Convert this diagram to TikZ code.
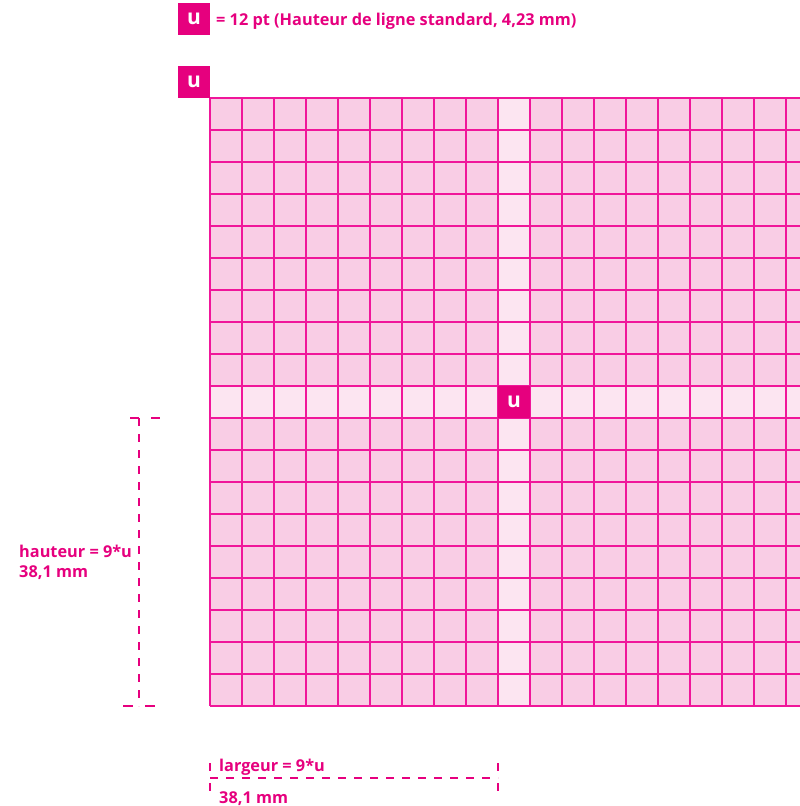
\documentclass[tikz,border=0pt]{standalone}
\usepackage{fontspec}
\setmainfont{Open Sans}
\definecolor{mag}{HTML}{E6007E}
\definecolor{gridc}{HTML}{F0169A}
\definecolor{cellfill}{HTML}{F9CDE5}
\definecolor{celllight}{HTML}{FCE5F1}
\begin{document}
\begin{tikzpicture}[x=1pt,y=-1pt,
  gridline/.style={draw=gridc,line width=1.5pt},
  ubox/.style={fill=mag,text=white,minimum size=32pt,inner sep=0pt,font=\fontsize{21}{21}\selectfont\bfseries},
  lbl/.style={anchor=base west,text=mag,inner sep=0pt,font=\fontsize{16.3}{18}\selectfont\bfseries},
  dimline/.style={draw=mag,line width=1.3pt,dash pattern=on 8pt off 8pt}]
\useasboundingbox (0,0) rectangle (800,806);
\fill[cellfill] (210,98) rectangle (800,706);
\fill[celllight] (498,98) rectangle (530,706);
\fill[celllight] (210,386) rectangle (800,418);
\foreach \i in {0,...,18} \draw[gridline] (210+32*\i,98) -- (210+32*\i,706);
\foreach \j in {0,...,19} \draw[gridline] (210,98+32*\j) -- (800,98+32*\j);
\node[ubox] (ulegend) at (194,19) {u};
\node[ubox] (ucorner) at (194,82) {u};
\node[ubox] (ucenter) at (514,402) {u};
\node[lbl] (legend) at (216,25) {= 12 pt (Hauteur de ligne standard, 4,23 mm)};
\node[lbl] (hlabel) at (19,557) {hauteur = 9*u};
\node[lbl] (hvalue) at (19,577) {38,1 mm};
\node[lbl] (wlabel) at (219,771) {largeur = 9*u};
\node[lbl] (wvalue) at (219,803) {38,1 mm};
% height dimension
\coordinate (htop) at (139,418);
\coordinate (hbot) at (139,706);
\draw[dimline] (htop) -- (hbot);
\coordinate (htl) at (130,418);
\coordinate (htr) at (161,418);
\draw[draw=mag,line width=1.3pt,dash pattern=on 9pt off 12pt] (htl) -- (htr);
\coordinate (hbl) at (123,706);
\coordinate (hbr) at (155,706);
\draw[draw=mag,line width=1.3pt,dash pattern=on 10pt off 12pt] (hbl) -- (hbr);
% width dimension
\coordinate (wl) at (210,778);
\coordinate (wr) at (498,778);
\draw[dimline] (wl) -- (wr);
\coordinate (wlt) at (210,763);
\coordinate (wlb) at (210,794);
\draw[draw=mag,line width=1.3pt,dash pattern=on 8pt off 12pt] (wlt) -- (wlb);
\coordinate (wrt) at (498,763);
\coordinate (wrb) at (498,794);
\draw[draw=mag,line width=1.3pt,dash pattern=on 8pt off 12pt] (wrt) -- (wrb);
\end{tikzpicture}
\end{document}
